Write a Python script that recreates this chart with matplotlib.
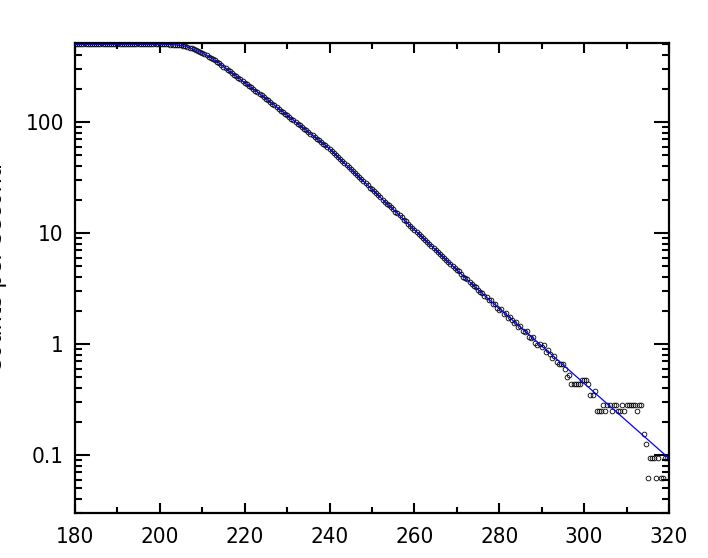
import matplotlib

matplotlib.use("Agg")
import matplotlib.pyplot as plt
import numpy as np
from matplotlib.ticker import FixedLocator, LogLocator, NullFormatter, MultipleLocator

plt.rcParams["font.family"] = ["DejaVu Sans"]
plt.rcParams["font.stretch"] = "condensed"

# measured points, one every 0.5 from 180 to 320
x_start, x_stop, x_step = 180.0, 320.0, 0.5
rate = [
    500, 500, 500, 500, 500, 500, 500, 500, 500, 500,
    500, 500, 500, 500, 500, 500, 500, 500, 500, 500,
    500, 500, 500, 500, 500, 500, 500, 500, 500, 500,
    500, 500, 500, 500, 500, 500, 500, 500, 500, 500,
    500, 500, 500, 500, 500,
    499, 499, 497, 495, 493, 490, 485, 481, 474, 468,
    460, 452, 443, 434, 426, 417, 407, 398, 389, 380,
    369, 359, 349, 339, 327, 316, 305, 295, 286, 276,
    267, 258, 250, 242, 234, 226, 219, 212, 205, 198,
    192, 186, 180, 174, 168, 162, 157, 151, 146, 141,
    136, 132, 127, 123, 119, 115, 111, 107, 104, 100,
    96.6, 93.3, 90.2, 87.1, 84.1, 81.3, 78.5, 75.9, 73.3, 70.8,
    68.4, 66.1, 63.8, 61.7, 59.6, 57.5, 55.1, 52.8, 50.6, 48.4,
    46.4, 44.4, 42.6, 40.7, 39.1, 37.5, 35.9, 34.5, 33.1, 31.7,
    30.4, 29.2, 28.0, 26.8, 25.7, 24.7, 23.7, 22.7, 21.8, 20.9,
    20.0, 19.2, 18.4, 17.7, 17.0, 16.3, 15.6, 15.0, 14.4, 13.8,
    13.2, 12.7, 12.1, 11.6, 11.2, 10.7, 10.3, 9.86, 9.45, 9.07,
    8.70, 8.34, 8.00, 7.67, 7.36, 7.06, 6.77, 6.49, 6.23, 5.97,
    5.73, 5.50, 5.27, 5.06, 4.85, 4.65, 4.52, 4.28, 4.05, 3.94,
    3.83, 3.63, 3.44, 3.35, 3.27, 3.09, 2.92,
    2.88, 2.69, 2.66, 2.50, 2.47, 2.31, 2.28, 2.13, 2.03, 2.06,
    1.88, 1.91, 1.72, 1.75, 1.63, 1.56, 1.59, 1.41, 1.44, 1.31,
    1.28, 1.31, 1.16, 1.13, 1.16, 1.03, 0.97, 1.00, 0.94, 0.97,
    0.84, 0.88, 0.81, 0.75, 0.78, 0.69, 0.66, 0.66, 0.66, 0.59,
    0.5, 0.531, 0.4375, 0.4375, 0.4375, 0.4375, 0.4375, 0.469, 0.469, 0.469,
    0.4375, 0.344, 0.344, 0.375, 0.25, 0.25, 0.25, 0.281, 0.25, 0.281,
    0.281, 0.25, 0.281, 0.281, 0.25, 0.25, 0.281, 0.25, 0.281, 0.281,
    0.281, 0.281, 0.281, 0.25, 0.281, 0.281, 0.156, 0.125, 0.0625, 0.094,
    0.094, 0.094, 0.0625, 0.094, 0.0625, 0.0625, 0.094, 0.094, 0.094,
]

# fitted curve
fit_x = [180, 200, 202, 203, 204, 205, 206, 207, 208, 210, 212, 214, 216, 220,
         224, 228, 232, 236, 240, 244, 248, 252, 256, 260, 264, 268, 272, 276,
         280, 320]
fit_y = [500, 500, 500, 499, 495, 490, 481, 468, 452, 417, 380, 339, 295, 226,
         174, 132, 100, 75.9, 57.5, 40.7, 29.2, 20.9, 15.0, 10.7, 7.67, 5.50, 3.94, 2.85,
         2.09, 0.0933]

y_ticks = [0.1, 1, 10, 100]
y_tick_labels = ["0.1", "1", "10", "100"]
y_label = "Counts per second"

x = np.arange(x_start, x_stop + x_step / 2, x_step)

fig = plt.figure(figsize=(7.08, 5.58), dpi=100)
ax = fig.add_axes([0.1059, 0.0806, 0.839, 0.8423])

ax.plot(x, rate, linestyle="none", marker="o", markersize=3.4,
        markerfacecolor="none", markeredgecolor="black", markeredgewidth=0.6, zorder=2)
ax.plot(fit_x, fit_y, color="#0000ff", linewidth=0.9, zorder=3)

ax.set_yscale("log")
ax.set_xlim(180, 320)
ax.set_ylim(0.030, 515)

ax.xaxis.set_major_locator(MultipleLocator(20))
ax.xaxis.set_minor_locator(MultipleLocator(10))
ax.yaxis.set_major_locator(FixedLocator(y_ticks))
ax.set_yticklabels(y_tick_labels)
ax.yaxis.set_minor_locator(LogLocator(base=10, subs=np.arange(2, 10)))
ax.yaxis.set_minor_formatter(NullFormatter())

ax.tick_params(which="both", direction="in", top=True, right=True, width=1.5,
               labelsize=16, colors="black")
ax.tick_params(axis="x", which="major", length=7.5, pad=10)
ax.tick_params(axis="x", which="minor", length=4.5)
ax.tick_params(axis="y", which="major", length=11, pad=8)
ax.tick_params(axis="y", which="minor", length=5)
for s in ax.spines.values():
    s.set_linewidth(1.6)

# axis title sits mostly beyond the left edge of the figure, as in the original
fig.text(0.0095, 0.52, y_label, rotation=90, fontsize=18, ha="right", va="center")

fig.savefig("out.png", dpi=100)
plt.close(fig)
